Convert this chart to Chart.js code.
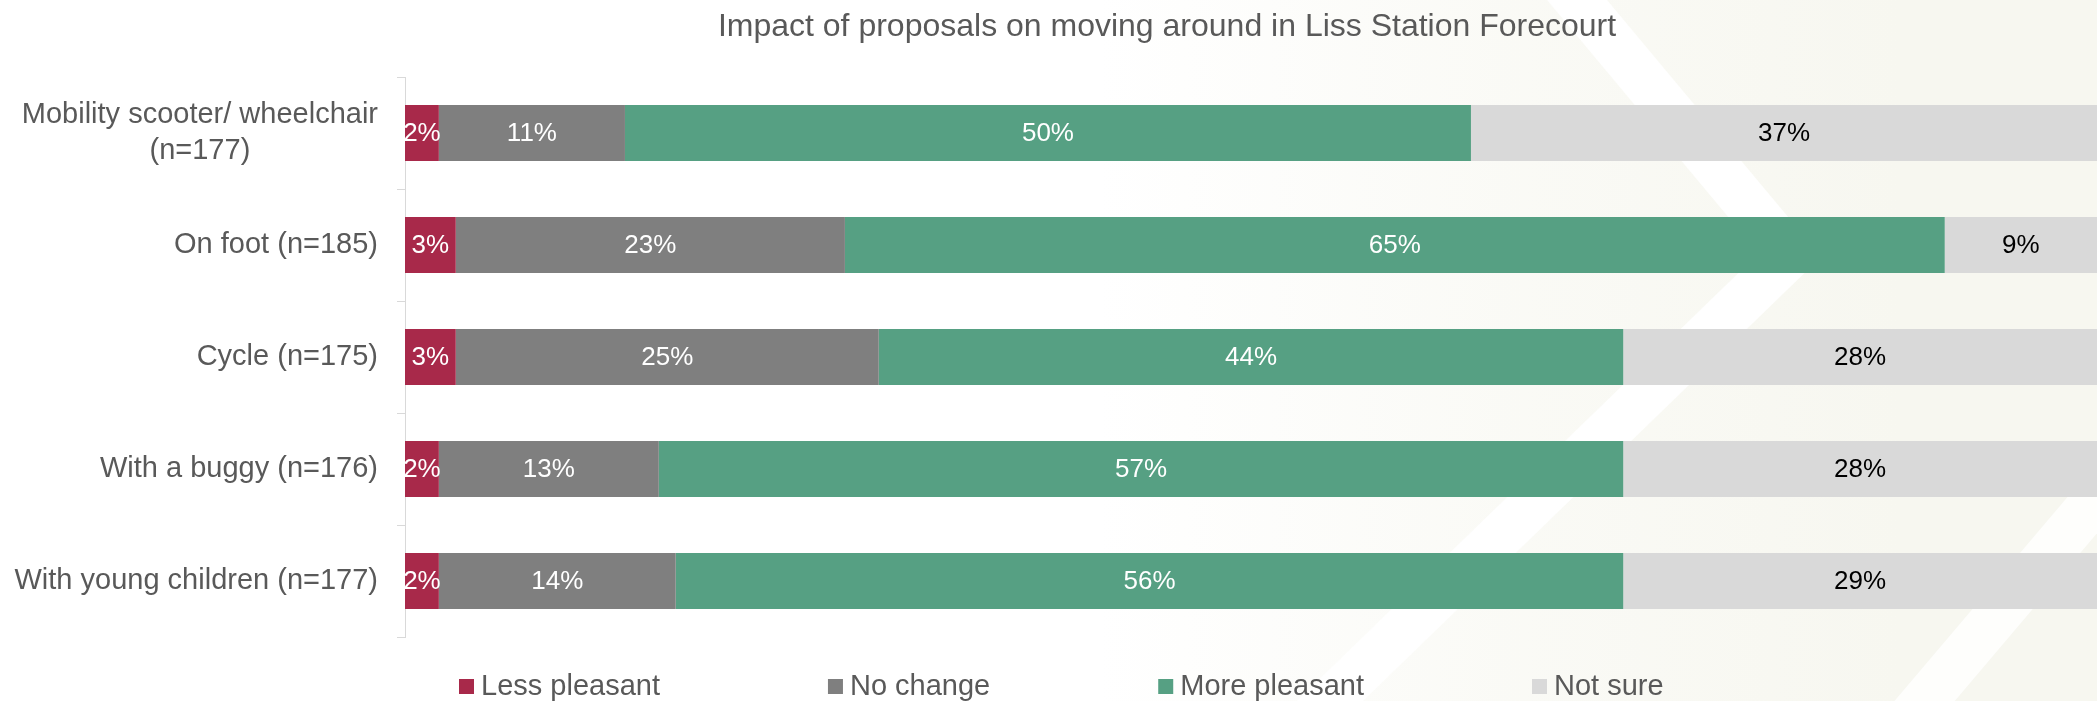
<!DOCTYPE html>
<html>
<head>
<meta charset="utf-8">
<title>Liss Station Forecourt</title>
<script src="https://cdn.jsdelivr.net/npm/chart.js@4.4.1/dist/chart.umd.min.js"></script>
<style>
  html, body { margin: 0; padding: 0; background: #ffffff; overflow: hidden; }
  canvas { display: block; }
</style>
</head>
<body>
<canvas id="chart" width="2097" height="701"></canvas>
<script>
// ---- data ----
const categories = [
  ["Mobility scooter/ wheelchair", "(n=177)"],
  "On foot (n=185)",
  "Cycle (n=175)",
  "With a buggy (n=176)",
  "With young children (n=177)"
];
const seriesNames = ["Less pleasant", "No change", "More pleasant", "Not sure"];
const lessPleasant = [2, 3, 3, 2, 2];
const noChange     = [11, 23, 25, 13, 14];
const morePleasant = [50, 65, 44, 57, 56];
const notSure      = [37, 9, 28, 28, 29];
const titleText = "Impact of proposals on moving around in Liss Station Forecourt";

// ---- styling ----
const FONT = '"Liberation Sans", Arial, Helvetica, sans-serif';
const TEXT_GREY = '#595959';
const seriesColors = ['#A8294A', '#7F7F7F', '#56A083', '#D9D9D9'];
const valueColors  = ['#FFFFFF', '#FFFFFF', '#FFFFFF', '#000000'];
const seriesValues = [lessPleasant, noChange, morePleasant, notSure];

// Soft cream backdrop with a white chevron on the right-hand side
const backdrop = {
  id: 'backdrop',
  beforeDraw(chart) {
    const { ctx, width, height } = chart;
    ctx.save();
    ctx.fillStyle = '#ffffff';
    ctx.fillRect(0, 0, width, height);
    const g = ctx.createLinearGradient(1100, 0, 1900, 0);
    g.addColorStop(0, 'rgba(247,247,240,0)');
    g.addColorStop(0.5, 'rgba(247,247,240,0.6)');
    g.addColorStop(1, 'rgba(247,247,240,1)');
    ctx.fillStyle = g;
    ctx.fillRect(1100, 0, width - 1100, height);

    ctx.strokeStyle = 'rgba(255,255,255,0.95)';
    ctx.lineCap = 'butt';
    ctx.lineJoin = 'miter';
    ctx.lineWidth = 46;
    ctx.beginPath();
    ctx.moveTo(1552, -30);
    ctx.lineTo(1790, 255);
    ctx.lineTo(1300, 730);
    ctx.stroke();
    ctx.strokeStyle = 'rgba(255,255,255,0.8)';
    ctx.beginPath();
    ctx.moveTo(1900, 730);
    ctx.lineTo(2180, 400);
    ctx.stroke();
    ctx.restore();
  }
};

// Category names, right-aligned beside the axis; wrapped names are centred on their widest line
const categoryNames = {
  id: 'categoryNames',
  afterDraw(chart) {
    const { ctx } = chart;
    const yScale = chart.scales.y;
    const right = chart.chartArea.left - 27;
    ctx.save();
    ctx.font = '29px ' + FONT;
    ctx.fillStyle = TEXT_GREY;
    ctx.textBaseline = 'middle';
    categories.forEach((cat, i) => {
      const y = yScale.getPixelForTick(i);
      if (Array.isArray(cat)) {
        const widest = Math.max(...cat.map(t => ctx.measureText(t).width));
        const cx = right - widest / 2;
        const lh = 36;
        ctx.textAlign = 'center';
        cat.forEach((t, k) => {
          ctx.fillText(t, cx, y + (k - (cat.length - 1) / 2) * lh);
        });
      } else {
        ctx.textAlign = 'right';
        ctx.fillText(cat, right, y);
      }
    });
    ctx.restore();
  }
};

// Percentage labels in the middle of each visible segment
const segmentValues = {
  id: 'segmentValues',
  afterDatasetsDraw(chart) {
    const { ctx, chartArea } = chart;
    ctx.save();
    ctx.font = '26px ' + FONT;
    ctx.textAlign = 'center';
    ctx.textBaseline = 'middle';
    chart.data.datasets.forEach((ds, di) => {
      const meta = chart.getDatasetMeta(di);
      ctx.fillStyle = valueColors[di];
      meta.data.forEach((el, j) => {
        const v = ds.data[j];
        const x0 = Math.max(Math.min(el.base, el.x), chartArea.left);
        const x1 = Math.min(Math.max(el.base, el.x), chartArea.right);
        ctx.fillText(v + '%', (x0 + x1) / 2, el.y + 1);
      });
    });
    ctx.restore();
  }
};

// Title and a bottom legend
const titleAndKey = {
  id: 'titleAndKey',
  afterDraw(chart) {
    const { ctx } = chart;
    ctx.save();
    ctx.fillStyle = TEXT_GREY;
    ctx.font = '32px ' + FONT;
    ctx.textAlign = 'center';
    ctx.textBaseline = 'alphabetic';
    ctx.fillText(titleText, 1167, 36);

    ctx.font = '29px ' + FONT;
    ctx.textAlign = 'left';
    const box = 15, gapText = 7, gapItem = 168;
    let x = 459;
    chart.data.datasets.forEach((ds, i) => {
      ctx.fillStyle = ds.backgroundColor;
      ctx.fillRect(x, 679, box, box);
      ctx.fillStyle = TEXT_GREY;
      ctx.fillText(ds.label, x + box + gapText, 695);
      x += box + gapText + ctx.measureText(ds.label).width + gapItem;
    });
    ctx.restore();
  }
};

const datasets = seriesNames.map((name, i) => ({
  label: name,
  data: seriesValues[i],
  backgroundColor: seriesColors[i],
  borderWidth: 0,
  categoryPercentage: 1.0,
  barPercentage: 0.5
}));

new Chart(document.getElementById('chart'), {
  type: 'bar',
  data: { labels: categories, datasets },
  options: {
    indexAxis: 'y',
    responsive: false,
    animation: false,
    devicePixelRatio: 1,
    layout: { padding: { top: 77, bottom: 64, left: 0, right: 0 } },
    plugins: {
      legend: { display: false },
      title: { display: false },
      tooltip: { enabled: false }
    },
    scales: {
      x: { stacked: true, min: 0, max: 100, display: false },
      y: {
        stacked: true,
        ticks: { display: false },
        grid: { drawOnChartArea: false, drawTicks: true, tickLength: 8, color: '#D9D9D9', offset: true },
        border: { display: true, color: '#D9D9D9', width: 1 },
        afterFit(scale) { scale.width = 405; }
      }
    }
  },
  plugins: [backdrop, categoryNames, segmentValues, titleAndKey]
});
</script>
</body>
</html>
